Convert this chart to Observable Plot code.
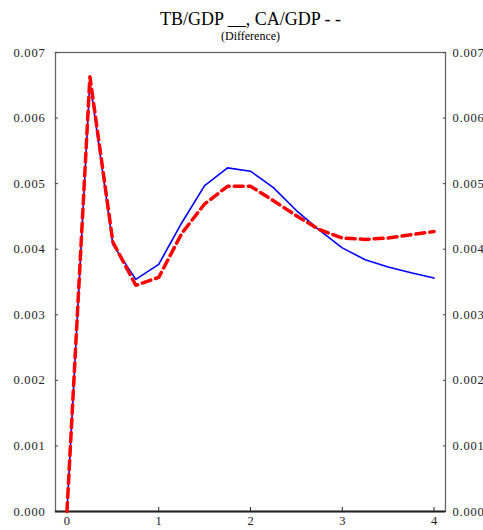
<!DOCTYPE html>
<html>
<head>
<meta charset="utf-8">
<script src="https://cdn.jsdelivr.net/npm/d3@7"></script>
<script src="https://cdn.jsdelivr.net/npm/@observablehq/plot@0.6"></script>
<style>
  body { margin: 0; background: #fff; }
  svg, svg text { font-family: "Liberation Serif", "DejaVu Serif", serif !important; }
  g[aria-label="y-axis tick label"] text { letter-spacing: 0.8px; }
</style>
</head>
<body>
<div id="chart"></div>
<script>
const title = "TB/GDP __, CA/GDP - -";
const subtitle = "(Difference)";
const years = [0, 0.25, 0.5, 0.75, 1, 1.25, 1.5, 1.75, 2, 2.25, 2.5, 2.75, 3, 3.25, 3.5, 3.75, 4];
const tbGdp = [0, 0.00655, 0.00407, 0.00354, 0.00377, 0.00440, 0.00497, 0.00524, 0.00519, 0.00494, 0.00459, 0.00429, 0.00402, 0.00384, 0.00373, 0.00364, 0.00356];
const caGdp = [0, 0.00663, 0.00411, 0.00345, 0.00357, 0.00424, 0.00469, 0.00496, 0.00496, 0.00474, 0.00451, 0.00430, 0.00417, 0.00415, 0.00417, 0.00422, 0.00427];
const xTicks = [0, 1, 2, 3, 4];
const yTicks = [0, 0.001, 0.002, 0.003, 0.004, 0.005, 0.006, 0.007];

const tb = years.map((x, i) => ({x, y: tbGdp[i]}));
const ca = years.map((x, i) => ({x, y: caGdp[i]}));

const font = '"Liberation Serif", serif';
const chart = Plot.plot({
  width: 483,
  height: 530,
  marginTop: 52,
  marginBottom: 19,
  marginLeft: 55,
  marginRight: 38,
  style: {fontFamily: font, background: "#fff", color: "#222"},
  x: {domain: [-0.125, 4.125], label: null},
  y: {domain: [0, 0.007], label: null},
  marks: [
    Plot.frame({stroke: "#666", strokeWidth: 1.3}),
    Plot.axisY(yTicks, {anchor: "left", label: null, tickSize: -3, tickPadding: 13, tickFormat: d3.format(".3f"), fontSize: 12.5, fontFamily: font, stroke: "#444", fill: "#222"}),
    Plot.axisY(yTicks, {anchor: "right", label: null, tickSize: -3, tickPadding: 10, tickFormat: d3.format(".3f"), fontSize: 12.5, fontFamily: font, stroke: "#444", fill: "#222"}),
    Plot.axisX(xTicks, {anchor: "bottom", label: null, tickSize: -4, tickPadding: 9, tickFormat: d3.format("d"), fontSize: 12.5, fontFamily: font, stroke: "#222", fill: "#222"}),
    Plot.ruleY([0], {stroke: "#222", strokeWidth: 2}),
    Plot.line(tb, {x: "x", y: "y", stroke: "#0000ff", strokeWidth: 1.6}),
    Plot.line(ca, {x: "x", y: "y", stroke: "#ff0000", strokeWidth: 3.5, strokeDasharray: "9,5"}),
    Plot.text([title], {frameAnchor: "top", dy: -40, fontSize: 18, fontFamily: font, fill: "#000", text: d => d}),
    Plot.text([subtitle], {frameAnchor: "top", dy: -21, fontSize: 12, fontFamily: font, fill: "#000", text: d => d})
  ]
});
document.getElementById("chart").append(chart);
</script>
</body>
</html>
